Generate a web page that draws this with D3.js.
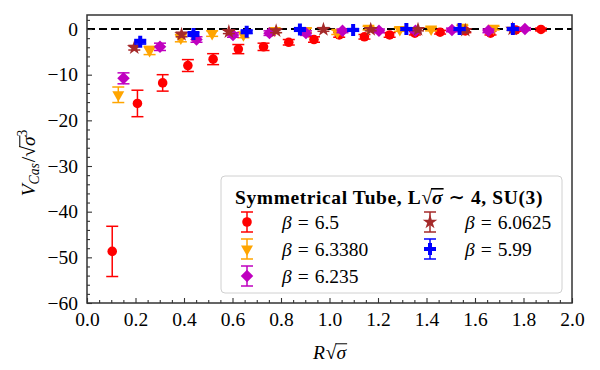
<!DOCTYPE html>
<html>
<head>
<meta charset="utf-8">
<script src="https://cdn.jsdelivr.net/npm/d3@7"></script>
<style>
  body { margin: 0; background: #fff; }
  svg text { font-family: "Liberation Serif", "DejaVu Serif", serif; }
</style>
</head>
<body>
<svg width="600" height="370"></svg>
<script>
// values
const betas = ["6.5", "6.3380", "6.235", "6.0625", "5.99"];
const colors = ["#ff0000", "#ffa500", "#bf00bf", "#a52a2a", "#0000ff"];

const xRed = [0.104, 0.208, 0.312, 0.416, 0.52, 0.624, 0.728, 0.832, 0.936, 1.04, 1.144, 1.248, 1.352, 1.456, 1.56, 1.664, 1.768, 1.872];
const yRed = [-48.7, -16.3, -11.8, -8.0, -6.6, -4.4, -3.9, -2.9, -2.3, -1.3, -1.7, -1.3, -0.9, -0.7, -0.4, -0.9, -0.2, -0.1];
const eRed = [5.5, 2.9, 1.8, 1.3, 1.2, 1.0, 0.8, 0.6, 0.6, 0.5, 0.5, 0.5, 0.4, 0.4, 0.4, 0.4, 0.3, 0.3];

const xOrange = [0.129, 0.258, 0.387, 0.516, 0.645, 0.774, 0.903, 1.032, 1.161, 1.29, 1.419, 1.548, 1.677];
const yOrange = [-14.4, -4.7, -2.0, -1.0, -1.3, -0.3, -0.3, -0.7, 0.2, -0.1, 0.0, 0.4, 0.2];
const eOrange = [1.7, 0.9, 0.8, 0.6, 0.6, 0.5, 0.5, 0.5, 0.4, 0.4, 0.4, 0.4, 0.4];

const xPurple = [0.1505, 0.301, 0.4515, 0.602, 0.7525, 0.903, 1.0535, 1.204, 1.3545, 1.505, 1.6555, 1.806];
const yPurple = [-10.8, -3.9, -2.3, -1.3, -0.9, -0.9, -0.4, -0.4, -0.4, -0.2, -0.4, 0.0];
const ePurple = [1.2, 0.8, 0.6, 0.5, 0.5, 0.5, 0.4, 0.4, 0.4, 0.4, 0.4, 0.3];

const xBrown = [0.195, 0.39, 0.585, 0.78, 0.975, 1.17, 1.365, 1.56, 1.755];
const yBrown = [-4.1, -1.2, -0.6, -0.4, -0.1, -0.1, -0.1, -0.3, 0.0];
const eBrown = [0.5, 0.5, 0.4, 0.4, 0.4, 0.3, 0.3, 0.3, 0.3];

const xBlue = [0.2195, 0.439, 0.6585, 0.878, 1.0975, 1.317, 1.5365, 1.756];
const yBlue = [-2.8, -1.1, -0.6, -0.1, -0.2, 0.0, 0.0, 0.0];
const eBlue = [0.5, 0.5, 0.4, 0.4, 0.3, 0.3, 0.3, 0.3];

const xTicks = [0, 0.2, 0.4, 0.6, 0.8, 1.0, 1.2, 1.4, 1.6, 1.8, 2.0];
const yTicks = [-60, -50, -40, -30, -20, -10, 0];

const series = [
  {x: xRed, y: yRed, e: eRed, shape: "circle"},
  {x: xOrange, y: yOrange, e: eOrange, shape: "tri"},
  {x: xPurple, y: yPurple, e: ePurple, shape: "diamond"},
  {x: xBrown, y: yBrown, e: eBrown, shape: "star"},
  {x: xBlue, y: yBlue, e: eBlue, shape: "plus"}
];

const svg = d3.select("svg");
const L = 87, R = 572, T = 15, B = 303;
const x = d3.scaleLinear([0, 2], [L, R]);
const y = d3.scaleLinear([-60, 3.07], [B, T]);

function symbolPath(shape) {
  if (shape == "circle") return d3.symbol(d3.symbolCircle, 72)();
  if (shape == "tri") return d3.symbol(d3.symbolTriangle, 62)();
  if (shape == "diamond") return d3.symbol(d3.symbolSquare, 78)();
  if (shape == "star") return d3.symbol(d3.symbolStar, 66)();
  return d3.symbol(d3.symbolCross, 80)();
}
function symbolRot(shape) {
  if (shape == "tri") return " rotate(180)";
  if (shape == "diamond") return " rotate(45)";
  return "";
}

// zero line
svg.append("line")
  .attr("x1", L).attr("x2", R).attr("y1", y(0)).attr("y2", y(0))
  .attr("stroke", "#000").attr("stroke-width", 2).attr("stroke-dasharray", "8,4");

// data
series.forEach((s, i) => {
  const g = svg.append("g").attr("fill", colors[i]).attr("stroke", colors[i]);
  const pts = s.x.map((v, j) => ({x: v, y: s.y[j], e: s.e[j]}));
  const eb = g.selectAll(".eb").data(pts).enter().append("g")
    .attr("stroke-width", 1.5);
  eb.append("line").attr("x1", d => x(d.x)).attr("x2", d => x(d.x))
    .attr("y1", d => y(d.y - d.e)).attr("y2", d => y(d.y + d.e));
  [-1, 1].forEach(k => {
    eb.append("line").attr("x1", d => x(d.x) - 6).attr("x2", d => x(d.x) + 6)
      .attr("y1", d => y(d.y + k * d.e)).attr("y2", d => y(d.y + k * d.e));
  });
  g.selectAll(".m").data(pts).enter().append("path")
    .attr("d", symbolPath(s.shape)).attr("stroke", "none")
    .attr("transform", d => `translate(${x(d.x)},${y(d.y)})` + symbolRot(s.shape));
});

// axes, ticks pointing in
const fmtX = d3.format(".1f");
svg.append("g").attr("transform", `translate(0,${B})`)
  .call(d3.axisBottom(x).tickValues(xTicks).tickSize(-5).tickPadding(9).tickFormat(fmtX));
svg.append("g").attr("transform", `translate(0,${B})`)
  .call(d3.axisBottom(x).tickValues(d3.range(0.05, 2, 0.1).concat(d3.range(0.1, 2, 0.2)).filter(v => Math.abs(v * 5 - Math.round(v * 5)) > 0.01)).tickSize(-3).tickFormat(""));
svg.append("g").attr("transform", `translate(${L},0)`)
  .call(d3.axisLeft(y).tickValues(yTicks).tickSize(-5).tickPadding(9).tickFormat(d => d < 0 ? "\u2212" + Math.abs(d) : d));
svg.append("g").attr("transform", `translate(${L},0)`)
  .call(d3.axisLeft(y).tickValues(d3.range(-58, 3, 2).filter(v => v % 10 != 0)).tickSize(-3).tickFormat(""));
svg.selectAll(".domain").remove();
svg.selectAll(".tick line").attr("stroke", "#333").attr("stroke-width", 1.1);
svg.selectAll(".tick text").attr("font-size", 19.5).attr("fill", "#000")
  .style("font-family", "'Liberation Serif', serif");
svg.append("rect").attr("x", L).attr("y", T).attr("width", R - L).attr("height", B - T)
  .attr("fill", "none").attr("stroke", "#333").attr("stroke-width", 1.5);

// math-like label made of pieces
function mathText(g, parts, size) {
  let cx = 0;
  parts.forEach(p => {
    const fs = p.small ? size * 0.7 : size;
    const t = g.append("text").attr("x", cx).attr("y", p.dy || 0)
      .attr("font-size", fs).text(p.t)
      .attr("font-style", p.it ? "italic" : "normal")
      .attr("font-weight", p.bold ? "bold" : "normal")
      .attr("letter-spacing", p.ls || 0);
    const w = t.node().getComputedTextLength();
    if (p.over) {
      g.append("line").attr("x1", cx - 1).attr("x2", cx + w + 1)
        .attr("y1", -size * 0.78).attr("y2", -size * 0.78)
        .attr("stroke", "#000").attr("stroke-width", p.bold ? 1.6 : 1);
    }
    cx += w + (p.gap || 0);
  });
  return cx;
}

// x label
const xl = svg.append("g");
const xw = mathText(xl, [{t: "R", it: true, gap: 1}, {t: "\u221A"}, {t: "\u03C3", it: true, over: true}], 19.5);
xl.attr("transform", `translate(${(L + R) / 2 - xw / 2},359)`);

// y label
const yl = svg.append("g");
const yw = mathText(yl, [
  {t: "V", it: true}, {t: "Cas", it: true, small: true, dy: 4, gap: 1},
  {t: "/"}, {t: "\u221A"}, {t: "\u03C3", it: true, over: true}, {t: "3", small: true, dy: -8}
], 19.5);
yl.attr("transform", `translate(35,${(T + B) / 2 + yw / 2 + 4}) rotate(-90)`);

// legend
const lg = svg.append("g");
lg.append("rect").attr("x", 221).attr("y", 176).attr("width", 341).attr("height", 117)
  .attr("rx", 4).attr("fill", "#fff").attr("fill-opacity", 0.85)
  .attr("stroke", "#d0d0d0").attr("stroke-width", 1);
const lt = lg.append("g");
const tw = mathText(lt, [
  {t: "Symmetrical Tube, L", bold: true, ls: 0.6}, {t: "\u221A", bold: true},
  {t: "\u03C3", it: true, bold: true, over: true, gap: 6}, {t: "\u223C 4, SU(3)", bold: true, ls: 0.6}
], 19.5);
lt.attr("transform", `translate(${389 - tw / 2},204)`);

const legPos = [[247, 222], [247, 249], [247, 276], [430, 222], [430, 249]];
series.forEach((s, i) => {
  const [mx, my] = legPos[i];
  const g = lg.append("g").attr("stroke", colors[i]).attr("fill", colors[i]).attr("stroke-width", 1.5);
  g.append("line").attr("x1", mx).attr("x2", mx).attr("y1", my - 10).attr("y2", my + 10);
  g.append("line").attr("x1", mx - 6).attr("x2", mx + 6).attr("y1", my - 10).attr("y2", my - 10);
  g.append("line").attr("x1", mx - 6).attr("x2", mx + 6).attr("y1", my + 10).attr("y2", my + 10);
  g.append("path").attr("d", symbolPath(s.shape)).attr("stroke", "none")
    .attr("transform", `translate(${mx},${my})` + symbolRot(s.shape));
  const tg = lg.append("g").attr("transform", `translate(${mx + 35},${my + 7})`);
  mathText(tg, [{t: "\u03B2", it: true, gap: 6}, {t: "=", gap: 6}, {t: betas[i]}], 19.5);
});
</script>
</body>
</html>
